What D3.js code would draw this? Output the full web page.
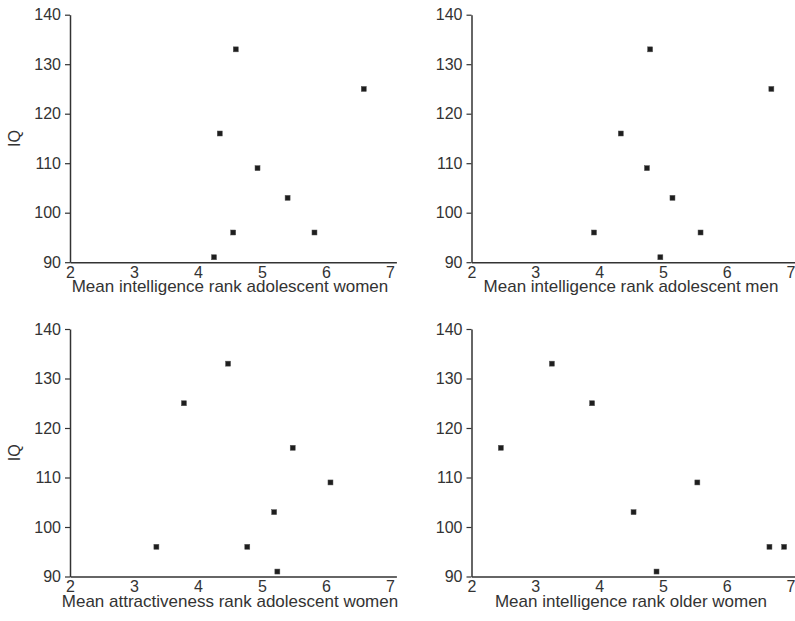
<!DOCTYPE html>
<html>
<head>
<meta charset="utf-8">
<script src="https://cdn.jsdelivr.net/npm/d3@7"></script>
<style>
  body { margin: 0; background: #fff; }
  svg { display: block; }
  text { font-family: 'Liberation Sans', Arial, sans-serif; }
</style>
</head>
<body>
<svg id="chart" width="795" height="621"></svg>
<script>
// IQ of the eight persons, same in every panel
const iq = [133, 125, 116, 109, 103, 96, 96, 91]

const rankWomen = [4.59, 6.59, 4.34, 4.93, 5.40, 4.55, 5.82, 4.25]
const rankMen = [4.80, 6.70, 4.34, 4.75, 5.15, 3.92, 5.59, 4.96]
const attractWomen = [4.47, 3.78, 5.48, 6.07, 5.19, 3.35, 4.77, 5.24]
const rankOlder = [3.26, 3.89, 2.46, 5.54, 4.54, 6.67, 6.90, 4.90]

const titles = [
  'Mean intelligence rank adolescent women',
  'Mean intelligence rank adolescent men',
  'Mean attractiveness rank adolescent women',
  'Mean intelligence rank older women'
]
const xTicks = [2, 3, 4, 5, 6, 7]
const yTicks = [90, 100, 110, 120, 130, 140]

const series = [rankWomen, rankMen, attractWomen, rankOlder]

let svg = d3.select('#chart')
let ink = '#333'
let font = "'Liberation Sans', Arial, sans-serif"

// left edge of axis and top of plot for each panel
let origins = [[70, 14.7], [471.5, 14.7], [70, 329], [471.5, 329]]
let plotH = 247.5

series.forEach((xs, i) => {
  let [ox, oy] = origins[i]
  let unit = i % 2 === 0 ? 64 : 63.8

  let x = d3.scaleLinear().domain([2, 7.1]).range([ox, ox + unit * 5.1])
  let y = d3.scaleLinear().domain([90, 140]).range([oy + plotH, oy])

  let g = svg.append('g')

  let xAxis = g.append('g')
    .attr('transform', 'translate(0,' + (oy + plotH) + ')')
    .call(d3.axisBottom(x).tickValues(xTicks).tickSize(0).tickPadding(4).tickFormat(d3.format('d')))
  let yAxis = g.append('g')
    .attr('transform', 'translate(' + ox + ',0)')
    .call(d3.axisLeft(y).tickValues(yTicks).tickSize(5).tickSizeOuter(0).tickPadding(4))

  ;[xAxis, yAxis].forEach(a => {
    a.attr('font-family', font).attr('font-size', 16)
    a.select('.domain').attr('stroke', ink).attr('stroke-width', 1.5)
    a.selectAll('.tick line').attr('stroke', ink).attr('stroke-width', 1.2)
    a.selectAll('.tick text').attr('fill', ink)
  })

  g.selectAll('rect.pt')
    .data(xs.map((v, k) => [v, iq[k]]))
    .enter()
    .append('rect')
    .attr('class', 'pt')
    .attr('x', d => x(d[0]) - 2.5)
    .attr('y', d => y(d[1]) - 2.5)
    .attr('width', 5)
    .attr('height', 5)
    .attr('fill', '#1e1e1e')
    .attr('stroke', '#555')
    .attr('stroke-width', 0.5)

  g.append('text')
    .text(titles[i])
    .attr('x', (x(2) + x(7)) / 2)
    .attr('y', oy + plotH + 30)
    .attr('text-anchor', 'middle')
    .attr('fill', ink)
    .style('font-size', '17px')

  if (i % 2 === 0) {
    g.append('text')
      .text('IQ')
      .attr('transform', 'translate(20,' + (oy + plotH / 2) + ') rotate(-90)')
      .attr('text-anchor', 'middle')
      .attr('fill', ink)
      .style('font-size', '16px')
  }
})
</script>
</body>
</html>
